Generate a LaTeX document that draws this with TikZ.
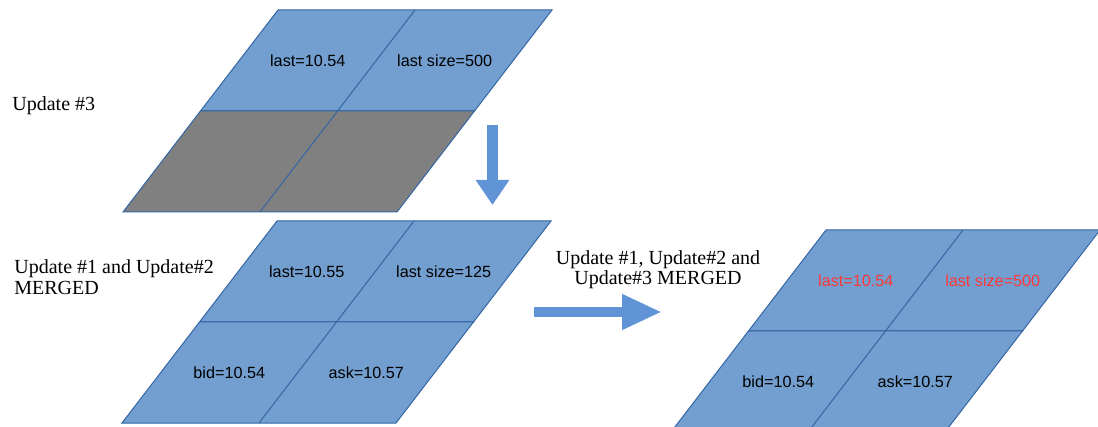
\documentclass[tikz,border=0pt]{standalone}
\usepackage{fontspec}
\setmainfont{Liberation Serif}
\setsansfont{Liberation Sans}
\usetikzlibrary{arrows.meta}
\definecolor{gridblue}{RGB}{114,159,207}
\definecolor{gridline}{RGB}{52,101,164}
\definecolor{gridgray}{RGB}{128,128,128}
\definecolor{arrowblue}{RGB}{96,148,214}
\definecolor{newred}{RGB}{255,56,56}
\begin{document}
\begin{tikzpicture}[x=0.5pt,y=-0.5pt]
	\tikzset{cellrow/.style={draw=gridline,line width=0.5pt}}
	\tikzset{celltext/.style={font=\sffamily\fontsize{8.1}{9.7}\selectfont,inner sep=0pt}}
	\tikzset{caption/.style={font=\fontsize{10}{10.3}\selectfont,inner sep=0pt}}
	\tikzset{blockarrow/.style={draw=arrowblue,line width=5.3pt}}
	\clip (0,0) rectangle (1098,427);
	% the three grids of fields, lower row fill given per grid
	\foreach \g/\gx/\gy/\lowfill in {upd3/278/10/gridgray, upd12/277/221/gridblue, all/826/230/gridblue}{
		\begin{scope}[shift={(\gx,\gy)}]
			\path[cellrow,fill=gridblue] (0,0) -- (274,0) -- (196.5,101) -- (-77.5,101) -- cycle;
			\path[cellrow,fill=\lowfill] (-77.5,101) -- (196.5,101) -- (119,202) -- (-155,202) -- cycle;
			\draw[cellrow] (137,0) -- (-18,202);
			\coordinate (\g-a) at (29.75,50.5);
			\coordinate (\g-b) at (166.75,50.5);
			\coordinate (\g-c) at (-47.75,151.5);
			\coordinate (\g-d) at (89.25,151.5);
		\end{scope}
	}
	\node[celltext] (last3) at (upd3-a) {last=10.54};
	\node[celltext] (size3) at (upd3-b) {last size=500};
	\node[celltext] (last12) at (upd12-a) {last=10.55};
	\node[celltext] (size12) at (upd12-b) {last size=125};
	\node[celltext] (bid12) at (upd12-c) {bid=10.54};
	\node[celltext] (ask12) at (upd12-d) {ask=10.57};
	\node[celltext,text=newred] (lastall) at (all-a) {last=10.54};
	\node[celltext,text=newred] (sizeall) at (all-b) {last size=500};
	\node[celltext] (bidall) at (all-c) {bid=10.54};
	\node[celltext] (askall) at (all-d) {ask=10.57};
	% captions (base = baseline of the last line)
	\node[caption,anchor=base west] (cap3) at (12,111) {Update \#3};
	\node[caption,anchor=base west,align=left,font=\fontsize{10}{10.6}\selectfont] (cap12) at (14,295) {Update \#1 and Update\#2\\MERGED};
	\node[caption,anchor=base,align=center] (capall) at (658,285) {Update \#1, Update\#2 and\\Update\#3 MERGED};
	% block arrows
	\coordinate (downfrom) at (492.5,125);
	\coordinate (downto) at (492.5,205);
	\coordinate (rightfrom) at (534,312);
	\coordinate (rightto) at (662,312);
	\draw[blockarrow,-{Triangle[width=16pt,length=12.5pt]}] (downfrom) -- (downto);
	\draw[blockarrow,-{Triangle[width=16.5pt,length=20pt]}] (rightfrom) -- (rightto);
\end{tikzpicture}
\end{document}
